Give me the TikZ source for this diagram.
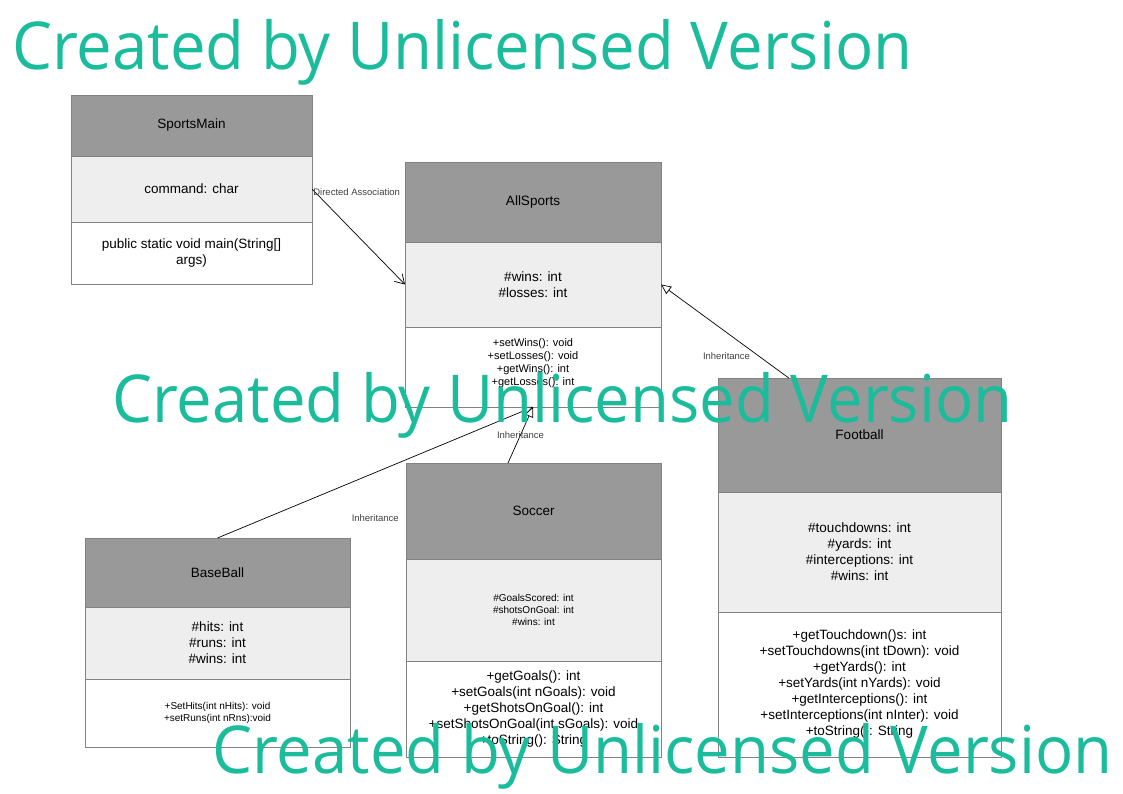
\documentclass[tikz,border=0pt]{standalone}
\usepackage{fontspec}
\setmainfont{Liberation Sans}
\newfontfamily\wmfont{Open Sans}
\usetikzlibrary{positioning,arrows.meta,calc}
\definecolor{hdgray}{RGB}{153,153,153}
\definecolor{attgray}{RGB}{238,238,238}
\definecolor{edgegray}{RGB}{130,130,130}
\definecolor{wmteal}{RGB}{26,188,156}

\begin{document}
\begin{tikzpicture}[
  x=1pt, y=-1pt,
  font=\fontsize{13.5}{16}\selectfont,
  cell/.style={draw=edgegray, line width=0.9pt, align=center, inner sep=2pt, outer sep=0pt},
  head/.style={cell, fill=hdgray},
  attrs/.style={cell, fill=attgray},
  ops/.style={cell, fill=white},
  small/.style={font=\fontsize{10}{12}\selectfont},
  arr/.style={-{Straight Barb[length=9pt, width=11pt]}, line width=0.7pt},
  inh/.style={-{Triangle[open, length=10pt, width=9pt, fill=white]}, line width=0.7pt},
  lab/.style={font=\fontsize{9.5}{11}\selectfont, text=black!75, inner sep=1pt},
  wm/.style={font=\wmfont\fontsize{66}{70}\selectfont, text=wmteal, anchor=base west, inner sep=0pt},
]
\useasboundingbox (0,0) rectangle (1123,794);
% ---- SportsMain ----
\node[head, minimum width=241pt, minimum height=61pt, anchor=north west] (smhead) at (71,95) {SportsMain};
\node[attrs, minimum width=241pt, minimum height=66pt, below=0pt of smhead] (smattr) {command: char};
\node[ops, minimum width=241pt, minimum height=62pt, below=0pt of smattr] (smops) {public static void main(String[]\\ args)};
% ---- AllSports ----
\node[head, minimum width=256pt, minimum height=80pt, anchor=north west] (ashead) at (405,162) {AllSports};
\node[attrs, minimum width=256pt, minimum height=85pt, below=0pt of ashead] (asattr) {\#wins: int\\ \#losses: int};
\node[ops, minimum width=256pt, minimum height=80pt, below=0pt of asattr, font=\fontsize{11}{13}\selectfont] (asops) {+setWins(): void\\ +setLosses(): void\\ +getWins(): int\\ +getLosses(): int\\[-3pt]\mbox{}};
% ---- BaseBall ----
\node[head, minimum width=265pt, minimum height=69pt, anchor=north west] (bbhead) at (85,538) {BaseBall};
\node[attrs, minimum width=265pt, minimum height=72pt, below=0pt of bbhead] (bbattr) {\#hits: int\\ \#runs: int\\ \#wins: int};
\node[ops, small, minimum width=265pt, minimum height=68pt, below=0pt of bbattr] (bbops) {+SetHits(int nHits): void\\ +setRuns(int nRns):void};
% ---- Soccer ----
\node[head, minimum width=255pt, minimum height=96pt, anchor=north west] (schead) at (406,463) {Soccer};
\node[attrs, small, minimum width=255pt, minimum height=102pt, below=0pt of schead] (scattr) {\#GoalsScored: int\\ \#shotsOnGoal: int\\ \#wins: int};
\node[ops, minimum width=255pt, minimum height=96pt, below=0pt of scattr] (scops) {+getGoals(): int\\ +setGoals(int nGoals): void\\ +getShotsOnGoal(): int\\ +setShotsOnGoal(int sGoals): void\\ +toString(): String};
% ---- Football ----
\node[head, minimum width=283pt, minimum height=114pt, anchor=north west] (fbhead) at (718,378) {Football};
\node[attrs, minimum width=283pt, minimum height=120pt, below=0pt of fbhead] (fbattr) {\#touchdowns: int\\ \#yards: int\\ \#interceptions: int\\ \#wins: int};
\node[ops, minimum width=283pt, minimum height=145pt, below=0pt of fbattr] (fbops) {+getTouchdown()s: int\\ +setTouchdowns(int tDown): void\\ +getYards(): int\\ +setYards(int nYards): void\\ +getInterceptions(): int\\ +setInterceptions(int nInter): void\\ +toString(): String};
% ---- connectors ----
\draw[arr] (smattr.east) -- node[pos=0, anchor=west, yshift=-3pt, lab] {Directed Association} (asattr.west);
\draw[inh] ($(fbhead.north west)!0.25!(fbhead.north east)$) -- node[pos=0.23, left, xshift=-8pt, lab] {Inheritance} (asattr.east);
\draw[inh] (bbhead.north) -- node[pos=0.5, yshift=-46pt, lab] {Inheritance} (asops.south);
\draw[inh] ($(schead.north west)!0.4!(schead.north east)$) -- node[pos=0.5, lab] {Inheritance} (asops.south);
% watermark
\node[wm] (wm1) at (12,70) {\scalebox{0.962}[1]{Created by Unlicensed Version}};
\node[wm] (wm2) at (112,422) {\scalebox{0.962}[1]{Created by Unlicensed Version}};
\node[wm] (wm3) at (212,773) {\scalebox{0.962}[1]{Created by Unlicensed Version}};
\end{tikzpicture}
\end{document}
